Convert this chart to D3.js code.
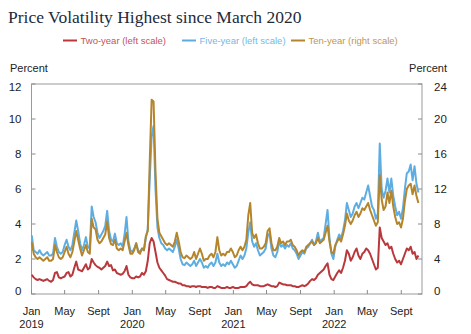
<!DOCTYPE html>
<html>
<head>
<meta charset="utf-8">
<script src="https://cdn.jsdelivr.net/npm/d3@7"></script>
<style>
  body { margin: 0; background: #fff; }
  svg { display: block; font-family: "Liberation Sans", Arial, sans-serif; }
</style>
</head>
<body>
<svg id="chart" width="471" height="334"></svg>
<script>
// weekly observations, starting 2 Jan 2019
var startDate = new Date(2019, 0, 2);

var twoYear = [
  1.1, 0.95, 0.85, 0.8, 0.85, 0.8, 0.75, 0.8, 0.85, 0.75, 0.7, 0.8,
  1.2, 1.25, 0.95, 0.9, 0.95, 1.0, 1.2, 1.25, 1.0, 1.1, 1.5, 1.85,
  1.4, 1.35, 1.3, 1.5, 1.7, 1.4, 1.5, 2.0, 1.8, 1.65, 1.55, 1.5,
  1.4, 1.5, 1.6, 1.85, 1.6, 1.65, 1.35, 1.4, 1.2, 1.15, 1.1, 1.15,
  1.3, 1.6, 1.1, 0.95, 0.9, 0.9, 1.0, 0.95, 1.0, 1.2, 1.1, 1.3,
  1.9, 2.9, 3.2, 3.0, 2.4, 1.8, 1.5, 1.35, 1.2, 1.05, 0.85, 0.8,
  0.75, 0.7, 0.7, 0.65, 0.6, 0.6, 0.5, 0.5, 0.45, 0.45, 0.4, 0.45,
  0.45, 0.4, 0.45, 0.45, 0.4, 0.4, 0.4, 0.35, 0.4, 0.4, 0.35, 0.35,
  0.45, 0.4, 0.35, 0.35, 0.35, 0.4, 0.35, 0.35, 0.4, 0.35, 0.35, 0.35,
  0.4, 0.4, 0.4, 0.45, 0.6, 0.7, 0.55, 0.5, 0.5, 0.5, 0.45, 0.45,
  0.45, 0.5, 0.55, 0.5, 0.45, 0.45, 0.4, 0.45, 0.65, 0.6, 0.55, 0.55,
  0.5, 0.5, 0.5, 0.45, 0.45, 0.4, 0.4, 0.45, 0.5, 0.45, 0.5, 0.6,
  0.75, 0.85, 0.8, 0.9, 1.1, 1.2, 1.3, 1.4, 1.6, 1.75, 1.1, 0.85,
  0.8, 1.0, 1.2, 1.35, 1.2, 1.5, 1.9, 2.5, 2.3, 1.9, 2.1, 2.4,
  2.6, 2.2, 2.0, 2.3, 2.4, 2.6, 2.5, 2.3, 2.0, 1.7, 1.4, 1.5,
  3.8, 3.2, 3.0, 2.8, 2.9, 2.6, 2.7, 2.3, 2.0, 1.8, 1.9, 1.7,
  2.0, 2.3, 2.6, 2.5, 2.7, 2.3, 2.4, 2.0, 2.2
];

var fiveYear = [
  3.35, 2.5, 2.4, 2.3, 2.5, 2.3, 2.2, 2.3, 2.4, 2.2, 2.2, 2.3,
  3.2, 2.7, 2.4, 2.3, 2.4, 2.8, 3.1, 2.7, 2.5, 2.8, 3.5, 4.2,
  3.6, 2.9, 2.5, 2.8, 3.25, 2.7, 2.6, 5.0, 4.4, 4.1, 3.5, 3.2,
  3.4, 3.6, 3.9, 4.75, 3.6, 3.1, 3.0, 3.45, 2.9, 2.8, 2.9, 2.7,
  3.4, 4.4, 3.0, 2.5, 2.4, 2.6, 2.9, 2.5, 2.4, 2.6, 2.5, 3.2,
  3.7, 6.5, 9.0, 9.6, 6.0, 3.8, 3.2, 2.9, 2.8, 2.6, 2.5, 2.6,
  2.5, 2.4, 2.7, 3.1, 2.6, 2.0, 1.7, 1.65, 1.8, 1.7, 1.6, 1.7,
  1.9, 1.6, 1.8, 2.0, 1.8, 1.5, 1.6, 1.5, 1.7, 1.8, 1.6, 1.8,
  2.3, 1.8, 1.6, 1.7, 1.6, 1.8, 1.7, 1.9, 1.7, 1.5, 1.6, 1.9,
  2.2, 2.0, 2.2, 2.6, 3.5, 4.1, 3.0, 2.7, 2.9, 2.5, 2.2, 2.3,
  2.4, 2.6, 3.3, 3.45, 2.6, 2.2, 2.1, 2.4, 3.0, 2.7, 2.8, 2.6,
  2.8, 2.7, 2.9, 2.6, 2.5, 2.3, 2.0, 2.2, 2.4, 2.3, 2.6, 2.7,
  2.9, 3.1, 2.8, 3.0, 3.5, 3.0, 3.1, 3.2, 4.0, 4.8, 3.2, 2.3,
  2.0, 2.7, 3.1, 3.4, 3.2, 3.6, 4.2, 5.2, 4.8, 4.4, 4.6, 5.0,
  5.2, 4.9, 5.2, 5.5, 5.4, 5.8, 6.2, 5.6, 5.0, 4.8, 4.3, 4.6,
  8.6, 6.0, 5.5, 5.9, 6.6, 5.8, 6.6, 5.6, 5.0, 4.5, 4.7, 4.3,
  4.9, 6.0, 6.9, 7.0, 7.4, 6.5, 7.3, 6.3, 5.8
];

// right scale
var tenYear = [
  5.9, 4.6, 4.2, 4.0, 4.2, 4.0, 3.8, 4.0, 4.2, 3.8, 3.8, 4.0,
  5.6, 4.8, 4.2, 4.0, 4.2, 4.8, 5.4, 4.6, 4.2, 4.8, 6.0, 7.2,
  6.2, 5.2, 4.4, 5.0, 5.6, 4.8, 4.6, 8.6, 7.6, 7.4, 6.2, 5.8,
  6.0, 6.4, 6.8, 8.3, 6.4, 5.7, 5.6, 6.2, 5.2, 5.0, 5.2, 5.0,
  6.0, 7.0, 5.6, 4.6, 4.6, 5.0, 5.8, 4.8, 4.6, 5.2, 5.0, 6.6,
  7.2, 15.0, 22.2, 22.0, 14.0, 8.6, 7.0, 6.6, 6.2, 5.8, 5.6, 5.8,
  5.6, 5.4, 6.0, 7.0, 6.0, 4.8, 4.2, 4.1, 4.4, 4.2, 4.0, 4.2,
  4.8, 4.0, 4.6, 5.2, 4.6, 3.8, 4.0, 4.0, 4.4, 4.6, 4.2, 4.8,
  6.5, 5.0, 4.4, 4.6, 4.4, 4.8, 4.8, 5.2, 4.8, 4.2, 4.4, 5.0,
  5.4, 5.0, 5.4, 6.2, 9.0, 10.4, 7.0, 6.4, 6.8, 5.8, 5.2, 5.2,
  5.4, 5.8, 7.2, 7.5, 5.8, 5.0, 5.0, 5.4, 6.4, 5.8, 6.0, 5.6,
  6.0, 6.0, 6.2, 5.6, 5.4, 5.0, 4.4, 4.8, 5.0, 4.8, 5.4, 5.6,
  5.8, 6.0, 5.6, 5.8, 6.4, 5.8, 6.0, 6.2, 7.0, 7.8, 6.0, 4.8,
  4.6, 5.6, 6.0, 6.4, 6.0, 6.8, 7.8, 9.2, 8.4, 8.0, 8.4, 9.0,
  9.4, 8.8, 9.2, 9.8, 9.6, 10.0, 10.4, 9.6, 9.0, 8.4, 7.8, 8.2,
  13.6, 10.8, 9.6, 10.0, 11.6, 10.4, 11.8, 10.0, 8.8, 8.0, 8.2, 7.6,
  8.6, 10.6, 12.0, 12.4, 12.6, 11.4, 12.4, 11.2, 10.4
];

var xTicks = ["2019-01", "2019-05", "2019-09", "2020-01", "2020-05", "2020-09",
              "2021-01", "2021-05", "2021-09", "2022-01", "2022-05", "2022-09"];
var monthNames = { 0: "Jan", 4: "May", 8: "Sept" };
var leftTicks = [0, 2, 4, 6, 8, 10, 12];
var rightTicks = [0, 4, 8, 12, 16, 20, 24];

var series = [
  { name: "Two-year (left scale)", values: twoYear, axis: "left", color: "#b9383c", text: "#c4545a" },
  { name: "Five-year (left scale)", values: fiveYear, axis: "left", color: "#5eade2", text: "#76b7e6" },
  { name: "Ten-year (right scale)", values: tenYear, axis: "right", color: "#b5852c", text: "#bf9650" }
];

var margin = { top: 84, right: 49, bottom: 40, left: 31.5 },
    width = 471 - margin.left - margin.right,
    height = 334 - margin.top - margin.bottom;

var svg = d3.select("#chart");

svg.append("text")
    .attr("x", 8)
    .attr("y", 23)
    .attr("font-family", "'Liberation Serif', 'DejaVu Serif', serif")
    .attr("font-size", 17.5)
    .attr("fill", "#1c2b3b")
    .text("Price Volatility Highest since March 2020");

var dates = twoYear.map(function(d, i) {
    return d3.timeDay.offset(startDate, i * 7);
});

var x = d3.scaleTime()
    .domain([new Date(2019, 0, 1), new Date(2022, 10, 15)])
    .range([0, width]);
var yLeft = d3.scaleLinear().domain([0, 12]).range([height, 0]);
var yRight = d3.scaleLinear().domain([0, 24]).range([height, 0]);

var chart = svg.append("g")
    .attr("transform", "translate(" + margin.left + "," + margin.top + ")");

// legend
var legendX = [63, 182, 291];
var legend = svg.append("g").attr("font-size", 9.5);
series.forEach(function(s, i) {
    legend.append("line")
        .attr("x1", legendX[i]).attr("x2", legendX[i] + 14)
        .attr("y1", 40.5).attr("y2", 40.5)
        .attr("stroke", s.color)
        .attr("stroke-width", 2);
    legend.append("text")
        .attr("x", legendX[i] + 17.5)
        .attr("y", 44)
        .attr("fill", s.text)
        .text(s.name);
});

svg.append("text").attr("x", 10).attr("y", 72).attr("font-size", 11).attr("fill", "#222").text("Percent");
svg.append("text").attr("x", 447).attr("y", 72).attr("font-size", 11).attr("fill", "#222")
    .attr("text-anchor", "end").text("Percent");

// frame
chart.append("rect")
    .attr("width", width)
    .attr("height", height)
    .attr("fill", "none")
    .attr("stroke", "#9a9a9a")
    .attr("stroke-width", 1);

var tickColor = "#8a8a8a";

chart.selectAll(".ltick")
    .data(leftTicks)
    .enter().append("line")
    .attr("x1", 0).attr("x2", 4)
    .attr("y1", function(d) { return yLeft(d); })
    .attr("y2", function(d) { return yLeft(d); })
    .attr("stroke", tickColor);

chart.selectAll(".rtick")
    .data(rightTicks)
    .enter().append("line")
    .attr("x1", width - 4).attr("x2", width)
    .attr("y1", function(d) { return yRight(d); })
    .attr("y2", function(d) { return yRight(d); })
    .attr("stroke", tickColor);

function nudge(d, max) {
    if (d === 0) return -3;
    if (d === max) return 3;
    return 0;
}

chart.selectAll(".llabel")
    .data(leftTicks)
    .enter().append("text")
    .attr("x", -10)
    .attr("y", function(d) { return yLeft(d) + nudge(d, 12); })
    .attr("dy", "0.35em")
    .attr("text-anchor", "end")
    .attr("font-size", 11.5)
    .attr("fill", "#222")
    .text(function(d) { return d; });

chart.selectAll(".rlabel")
    .data(rightTicks)
    .enter().append("text")
    .attr("x", width + 12)
    .attr("y", function(d) { return yRight(d) + nudge(d, 24); })
    .attr("dy", "0.35em")
    .attr("font-size", 11.5)
    .attr("fill", "#222")
    .text(function(d) { return d; });

var parseMonth = d3.timeParse("%Y-%m");
var xTickDates = xTicks.map(parseMonth);

chart.selectAll(".xtick")
    .data(xTickDates)
    .enter().append("line")
    .attr("x1", function(d) { return x(d); })
    .attr("x2", function(d) { return x(d); })
    .attr("y1", height - 4).attr("y2", height)
    .attr("stroke", tickColor);

var xl = chart.selectAll(".xlabel")
    .data(xTickDates)
    .enter().append("text")
    .attr("x", function(d) { return x(d); })
    .attr("y", height + 20.5)
    .attr("text-anchor", "middle")
    .attr("font-size", 11)
    .attr("fill", "#222");
xl.append("tspan")
    .attr("x", function(d) { return x(d); })
    .text(function(d) { return monthNames[d.getMonth()]; });
xl.append("tspan")
    .attr("x", function(d) { return x(d); })
    .attr("dy", 13.5)
    .text(function(d) { return d.getMonth() === 0 ? d.getFullYear() : ""; });

// lines
series.forEach(function(s) {
    var yScale = s.axis === "left" ? yLeft : yRight;
    var line = d3.line()
        .x(function(d, i) { return x(dates[i]); })
        .y(function(d) { return yScale(d); });
    chart.append("path")
        .datum(s.values)
        .attr("fill", "none")
        .attr("stroke", s.color)
        .attr("stroke-width", 2)
        .attr("stroke-linejoin", "round")
        .attr("d", line);
});
</script>
</body>
</html>
